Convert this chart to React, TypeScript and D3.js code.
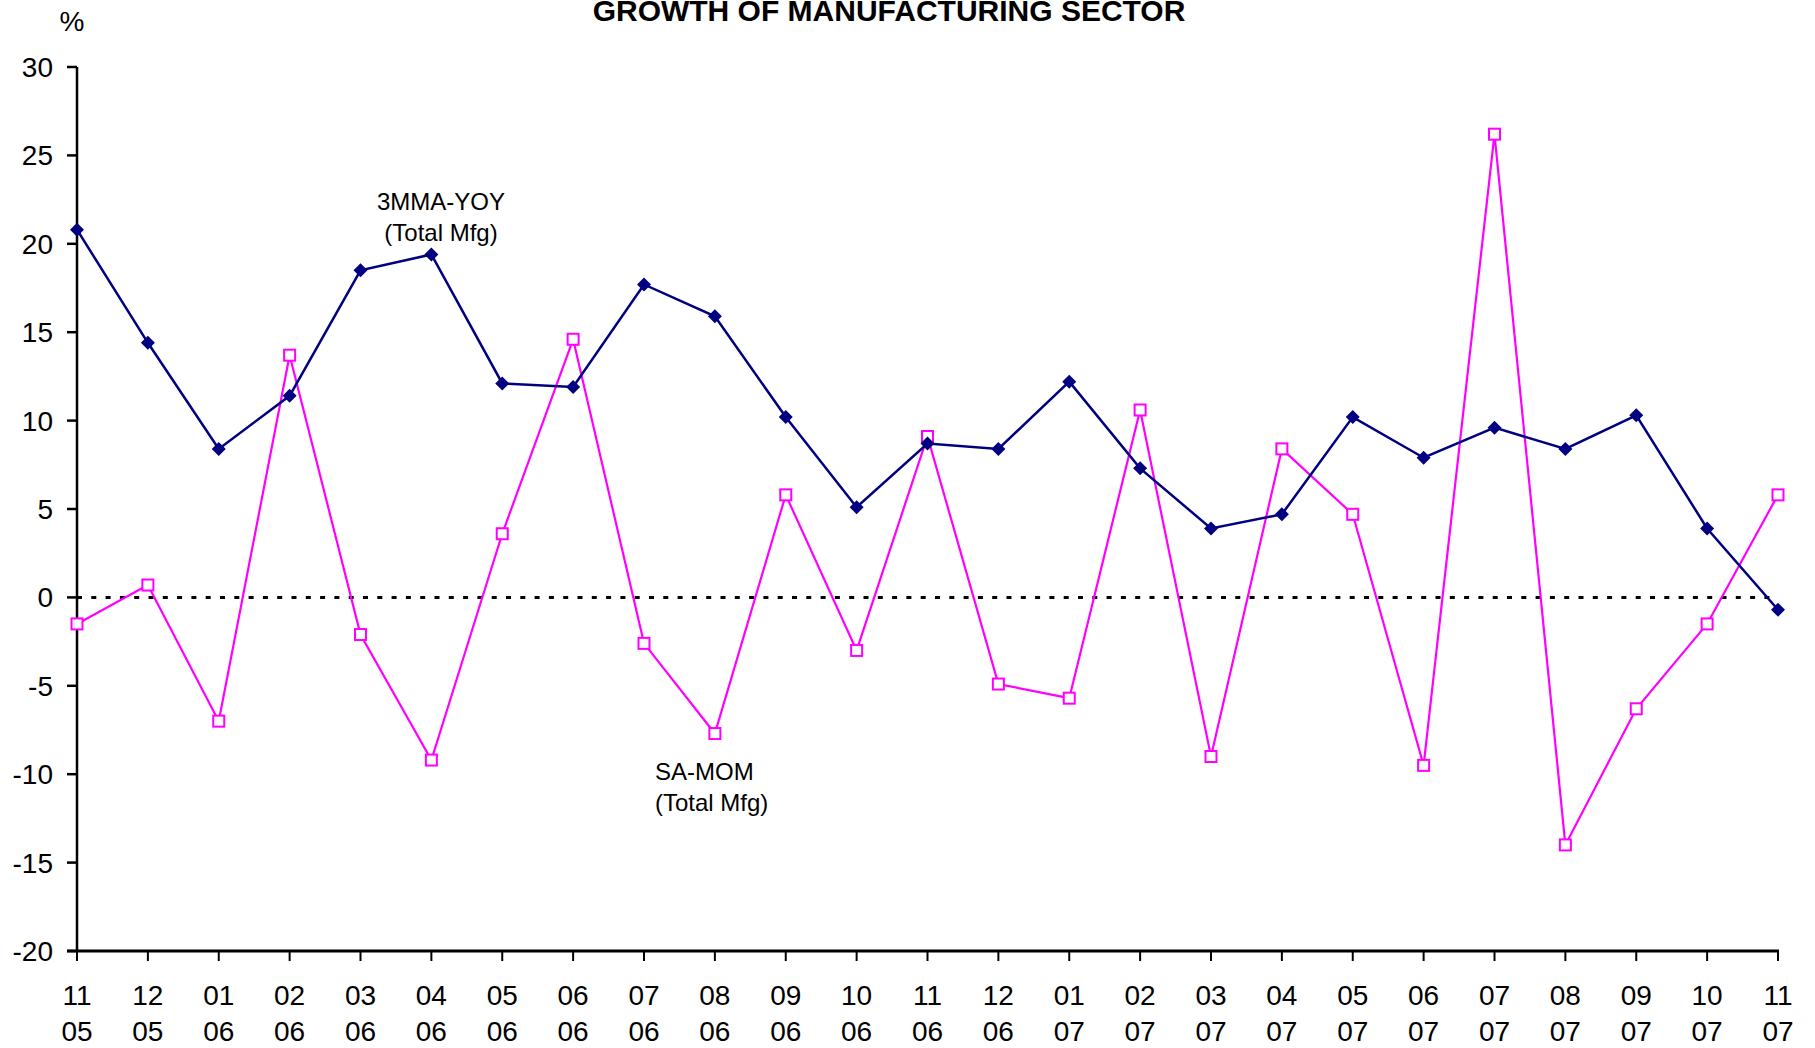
import React, { useEffect, useRef } from 'react';
import * as d3 from 'd3';

// Month / year tick labels (two lines)
const months = ['11', '12', '01', '02', '03', '04', '05', '06', '07', '08', '09', '10', '11', '12', '01', '02', '03', '04', '05', '06', '07', '08', '09', '10', '11'];
const years = ['05', '05', '06', '06', '06', '06', '06', '06', '06', '06', '06', '06', '06', '06', '07', '07', '07', '07', '07', '07', '07', '07', '07', '07', '07'];

// 3MMA-YOY (Total Mfg)
const yoy = [20.8, 14.4, 8.4, 11.4, 18.5, 19.4, 12.1, 11.9, 17.7, 15.9, 10.2, 5.1, 8.7, 8.4, 12.2, 7.3, 3.9, 4.7, 10.2, 7.9, 9.6, 8.4, 10.3, 3.9, -0.7];
// SA-MOM (Total Mfg)
const mom = [-1.5, 0.7, -7.0, 13.7, -2.1, -9.2, 3.6, 14.6, -2.6, -7.7, 5.8, -3.0, 9.1, -4.9, -5.7, 10.6, -9.0, 8.4, 4.7, -9.5, 26.2, -14.0, -6.3, -1.5, 5.8];

const yTicks = [30, 25, 20, 15, 10, 5, 0, -5, -10, -15, -20];

const App = () => {
  const ref = useRef<SVGSVGElement | null>(null);

  useEffect(() => {
    const svg = d3.select(ref.current);
    svg.selectAll('*').remove();

    const left = 77;
    const right = 1778;
    const top = 67;
    const bottom = 951;
    const font = 'Arial, "Liberation Sans", sans-serif';

    const x = d3.scalePoint<number>()
      .domain(d3.range(months.length))
      .range([left, right]);

    const y = d3.scaleLinear().domain([-20, 30]).range([bottom, top]);

    // Title
    svg.append('text')
      .attr('x', 889)
      .attr('y', 21)
      .attr('text-anchor', 'middle')
      .style('font-family', font)
      .style('font-size', '30px')
      .style('font-weight', 'bold')
      .text('GROWTH OF MANUFACTURING SECTOR');

    // % unit
    svg.append('text')
      .attr('x', 72)
      .attr('y', 31)
      .attr('text-anchor', 'middle')
      .style('font-family', font)
      .style('font-size', '28px')
      .text('%');

    // zero line
    svg.append('line')
      .attr('x1', left)
      .attr('x2', right - 4)
      .attr('y1', y(0))
      .attr('y2', y(0))
      .attr('stroke', '#000')
      .attr('stroke-width', 3)
      .attr('stroke-dasharray', '5,9.3');

    // Y axis
    const yAxis = svg.append('g');
    yAxis.append('line')
      .attr('x1', left).attr('x2', left)
      .attr('y1', top).attr('y2', bottom)
      .attr('stroke', '#000').attr('stroke-width', 2.5);
    yTicks.forEach(t => {
      yAxis.append('line')
        .attr('x1', left - 10).attr('x2', left)
        .attr('y1', y(t)).attr('y2', y(t))
        .attr('stroke', '#000').attr('stroke-width', 2.5);
      yAxis.append('text')
        .attr('x', 53)
        .attr('y', y(t) + 10)
        .attr('text-anchor', 'end')
        .style('font-family', font)
        .style('font-size', '28px')
        .text(t);
    });

    // X axis
    const xAxis = svg.append('g');
    xAxis.append('line')
      .attr('x1', left - 10).attr('x2', right + 1)
      .attr('y1', bottom).attr('y2', bottom)
      .attr('stroke', '#000').attr('stroke-width', 3);
    months.forEach((m, i) => {
      xAxis.append('line')
        .attr('x1', x(i)).attr('x2', x(i))
        .attr('y1', bottom).attr('y2', bottom + 10)
        .attr('stroke', '#000').attr('stroke-width', 2);
      xAxis.append('text')
        .attr('x', x(i))
        .attr('y', 1005)
        .attr('text-anchor', 'middle')
        .style('font-family', font)
        .style('font-size', '28px')
        .text(m);
      xAxis.append('text')
        .attr('x', x(i))
        .attr('y', 1041)
        .attr('text-anchor', 'middle')
        .style('font-family', font)
        .style('font-size', '28px')
        .text(years[i]);
    });

    const line = d3.line<number>()
      .x((_, i) => x(i) as number)
      .y(d => y(d));

    // SA-MOM series
    svg.append('path')
      .datum(mom)
      .attr('d', line)
      .attr('fill', 'none')
      .attr('stroke', '#FF00FF')
      .attr('stroke-width', 2.2);

    // 3MMA-YOY series
    svg.append('path')
      .datum(yoy)
      .attr('d', line)
      .attr('fill', 'none')
      .attr('stroke', '#000080')
      .attr('stroke-width', 2.5);

    svg.selectAll('.sq')
      .data(mom)
      .enter()
      .append('rect')
      .attr('x', (_, i) => (x(i) as number) - 5.5)
      .attr('y', d => y(d) - 5.5)
      .attr('width', 11)
      .attr('height', 11)
      .attr('fill', '#fff')
      .attr('stroke', '#FF00FF')
      .attr('stroke-width', 2);

    svg.selectAll('.dm')
      .data(yoy)
      .enter()
      .append('path')
      .attr('transform', (d, i) => `translate(${x(i)},${y(d)})`)
      .attr('d', 'M0,-7L7,0L0,7L-7,0Z')
      .attr('fill', '#000080');

    // Annotations
    const note = (tx: number, ty: number, anchor: string, lines: string[]) => {
      lines.forEach((l, k) => {
        svg.append('text')
          .attr('x', tx)
          .attr('y', ty + k * 31)
          .attr('text-anchor', anchor)
          .style('font-family', font)
          .style('font-size', '24px')
          .text(l);
      });
    };
    note(441, 210, 'middle', ['3MMA-YOY', '(Total Mfg)']);
    note(655, 780, 'start', ['SA-MOM', '(Total Mfg)']);
  }, []);

  return (
    <svg
      ref={ref}
      width={1815}
      height={1048}
      style={{ position: 'absolute', left: 0, top: 0, background: '#fff' }}
    />
  );
};

export default App;
